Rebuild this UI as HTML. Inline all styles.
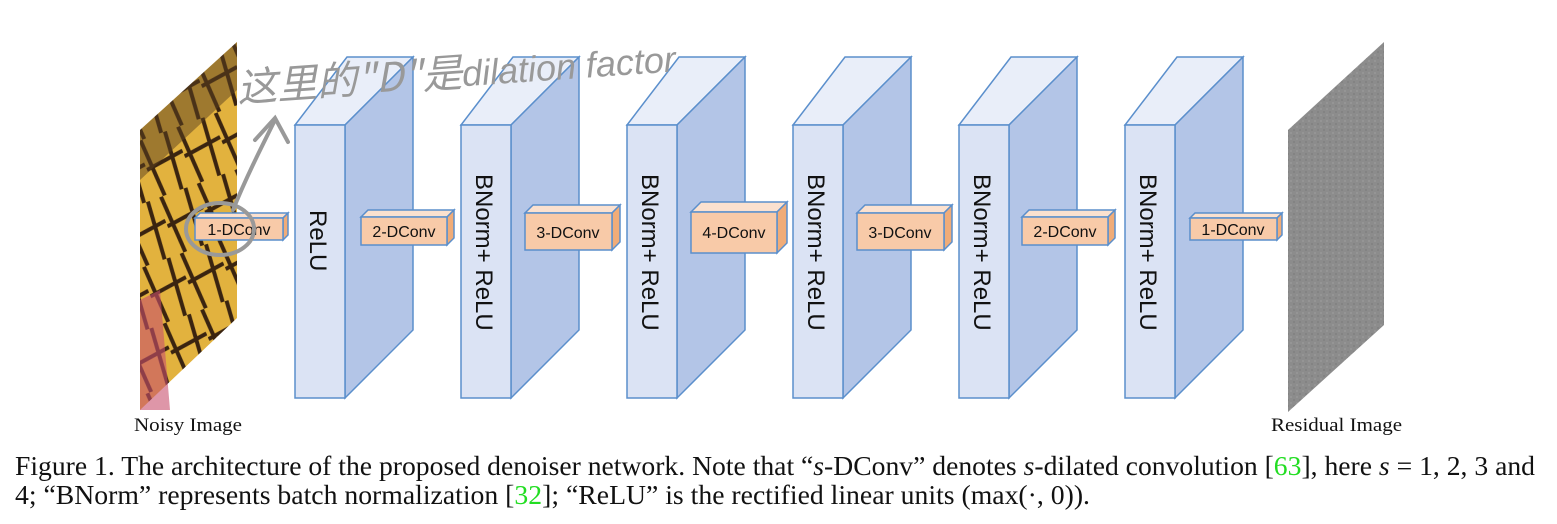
<!DOCTYPE html>
<html><head><meta charset="utf-8"><style>
html,body{margin:0;padding:0;background:#fff;}
svg{display:block}
</style></head><body>
<svg width="1557" height="524" viewBox="0 0 1557 524" xmlns="http://www.w3.org/2000/svg">
<defs>
<pattern id="bf" width="40" height="60" patternUnits="userSpaceOnUse" patternTransform="rotate(-20)">
<rect width="40" height="60" fill="#e2b23e"/>
<path d="M4 0 L8 60 M30 0 L26 60 M0 30 L40 24" stroke="#3a2410" stroke-width="4"/>
</pattern>
<pattern id="ns" width="6" height="6" patternUnits="userSpaceOnUse">
<rect width="6" height="6" fill="#8c8c8c"/>
<rect x="0" y="0" width="2" height="2" fill="#959595"/>
<rect x="3" y="3" width="2" height="2" fill="#838383"/>
</pattern>
</defs>
<!-- noisy image -->
<polygon points="140,130 237,42 237,318 140,410" fill="url(#bf)"/>
<polygon points="140,130 237,42 237,90 140,180" fill="#5a4020" opacity="0.5"/>
<polygon points="140,300 160,290 170,410 140,410" fill="#c8506e" opacity="0.6"/>
<!-- residual image -->
<polygon points="1288,130 1384,42 1384,325 1288,412" fill="url(#ns)"/>

<g stroke="#5b8fcc" stroke-width="1.5">
<g id="blk">
<polygon points="295,125 345,125 413,57 347,57" fill="#e9eef9"/>
<polygon points="345,125 413,57 413,330 345,398" fill="#b3c5e7"/>
<rect x="295" y="125" width="50" height="273" fill="#dbe3f4"/>
</g>
<use href="#blk" x="166"/>
<use href="#blk" x="332"/>
<use href="#blk" x="498"/>
<use href="#blk" x="664"/>
<use href="#blk" x="830"/>
</g>

<g stroke="#5b8fcc" stroke-width="1.5">
<polygon points="195,218 283,218 288,213 200,213" fill="#fbe1cf"/><polygon points="283,218 288,213 288,235 283,240" fill="#f0ac78"/><rect x="195" y="218" width="88" height="22" fill="#f8caa8"/>
<polygon points="361,217 447,217 454,210 368,210" fill="#fbe1cf"/><polygon points="447,217 454,210 454,238 447,245" fill="#f0ac78"/><rect x="361" y="217" width="86" height="28" fill="#f8caa8"/>
<polygon points="525,213 612,213 620,205 533,205" fill="#fbe1cf"/><polygon points="612,213 620,205 620,242 612,250" fill="#f0ac78"/><rect x="525" y="213" width="87" height="37" fill="#f8caa8"/>
<polygon points="691,212 777,212 787,202 701,202" fill="#fbe1cf"/><polygon points="777,212 787,202 787,243 777,253" fill="#f0ac78"/><rect x="691" y="212" width="86" height="41" fill="#f8caa8"/>
<polygon points="857,213 944,213 952,205 865,205" fill="#fbe1cf"/><polygon points="944,213 952,205 952,242 944,250" fill="#f0ac78"/><rect x="857" y="213" width="87" height="37" fill="#f8caa8"/>
<polygon points="1022,217 1108,217 1115,210 1029,210" fill="#fbe1cf"/><polygon points="1108,217 1115,210 1115,238 1108,245" fill="#f0ac78"/><rect x="1022" y="217" width="86" height="28" fill="#f8caa8"/>
<polygon points="1190,218 1277,218 1282,213 1195,213" fill="#fbe1cf"/><polygon points="1277,218 1282,213 1282,235 1277,240" fill="#f0ac78"/><rect x="1190" y="218" width="87" height="22" fill="#f8caa8"/>
</g>

<g font-family="Liberation Sans, DejaVu Sans, sans-serif" font-size="16" fill="#111" text-anchor="middle">
<text x="239" y="235">1-DConv</text>
<text x="404" y="237">2-DConv</text>
<text x="568" y="238">3-DConv</text>
<text x="734" y="238">4-DConv</text>
<text x="900" y="238">3-DConv</text>
<text x="1065" y="237">2-DConv</text>
<text x="1233" y="235">1-DConv</text>
</g>

<g font-family="Liberation Sans, DejaVu Sans, sans-serif" font-size="24" fill="#111">
<text transform="translate(310,210) rotate(90)">ReLU</text>
<text transform="translate(476,174) rotate(90)">BNorm+ ReLU</text>
<text transform="translate(642,174) rotate(90)">BNorm+ ReLU</text>
<text transform="translate(808,174) rotate(90)">BNorm+ ReLU</text>
<text transform="translate(974,174) rotate(90)">BNorm+ ReLU</text>
<text transform="translate(1140,174) rotate(90)">BNorm+ ReLU</text>
</g>

<g stroke="#999" stroke-width="4" fill="none" stroke-linecap="round">
<ellipse cx="220" cy="229" rx="34" ry="26"/>
<path d="M233,210 C245,180 260,150 275,120"/>
<path d="M255,140 L275,118 L288,142"/>
</g>
<text x="238" y="102" font-family="WenQuanYi Zen Hei, Noto Sans CJK SC, sans-serif" font-size="40" fill="#999" font-style="italic" transform="rotate(-4 238 102)">这里的"D"是<tspan font-family="Liberation Sans, sans-serif" font-size="36">dilation factor</tspan></text>

<g font-family="Liberation Serif, serif" fill="#111">
<text x="134" y="431" font-size="19" textLength="108" lengthAdjust="spacingAndGlyphs">Noisy Image</text>
<text x="1271" y="431" font-size="19" textLength="131" lengthAdjust="spacingAndGlyphs">Residual Image</text>
<text x="15" y="475" font-size="27" textLength="1520" lengthAdjust="spacingAndGlyphs">Figure 1. The architecture of the proposed denoiser network. Note that “<tspan font-style="italic">s</tspan>-DConv” denotes <tspan font-style="italic">s</tspan>-dilated convolution [<tspan fill="#22dd22">63</tspan>], here <tspan font-style="italic">s</tspan> = 1, 2, 3 and</text>
<text x="15" y="504" font-size="27" textLength="1075" lengthAdjust="spacingAndGlyphs">4; “BNorm” represents batch normalization [<tspan fill="#22dd22">32</tspan>]; “ReLU” is the rectified linear units (max(·, 0)).</text>
</g>
</svg>
</body></html>
